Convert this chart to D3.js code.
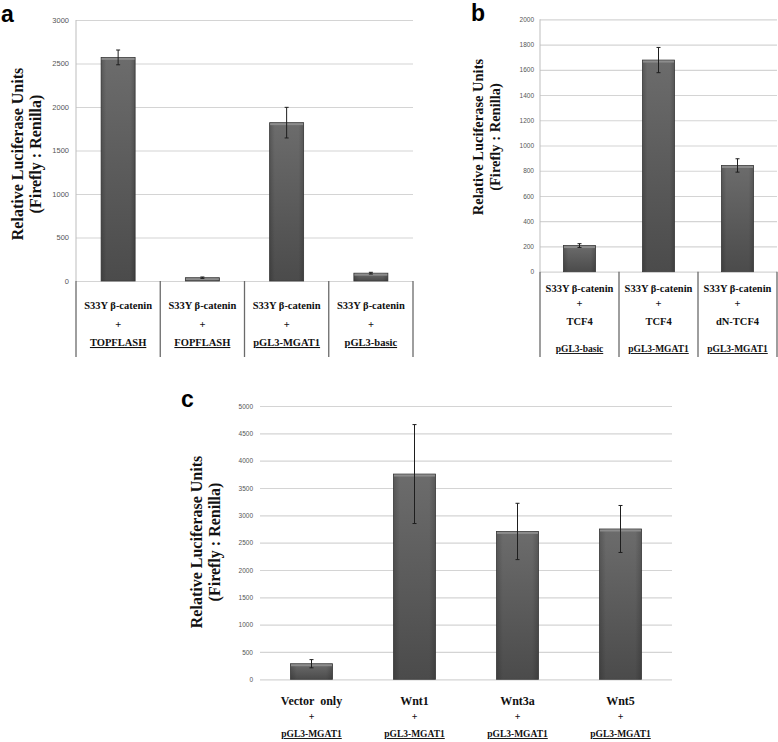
<!DOCTYPE html>
<html><head><meta charset="utf-8">
<script src="https://cdn.jsdelivr.net/npm/d3@7"></script>
<style>body{margin:0;background:#fff}svg{display:block}</style>
</head><body>
<svg id="c" width="778" height="742"></svg>
<script>
// ---- data ----
const aValues = [2570, 38, 1820, 90];
const aErrors = [85, 8, 176, 10];
const aLine1 = ["S33Y β-catenin","S33Y β-catenin","S33Y β-catenin","S33Y β-catenin"];
const aLine3 = ["TOPFLASH","FOPFLASH","pGL3-MGAT1","pGL3-basic"];
const aTicks = [0,500,1000,1500,2000,2500,3000];

const bValues = [207, 1677, 842];
const bErrors = [15, 100, 53];
const bLine1 = ["S33Y β-catenin","S33Y β-catenin","S33Y β-catenin"];
const bLine3 = ["TCF4","TCF4","dN-TCF4"];
const bLine4 = ["pGL3-basic","pGL3-MGAT1","pGL3-MGAT1"];
const bTicks = [0,200,400,600,800,1000,1200,1400,1600,1800,2000];

const cValues = [285, 3755, 2705, 2750];
const cErrors = [75, 905, 515, 430];
const cLine1 = ["Vector  only","Wnt1","Wnt3a","Wnt5"];
const cLine3 = ["pGL3-MGAT1","pGL3-MGAT1","pGL3-MGAT1","pGL3-MGAT1"];
const cTicks = [0,500,1000,1500,2000,2500,3000,3500,4000,4500,5000];

const svg = d3.select("#c");
const defs = svg.append("defs");
const g = defs.append("linearGradient").attr("id","barg").attr("x1",0).attr("y1",0).attr("x2",0).attr("y2",1);
g.append("stop").attr("offset","0%").attr("stop-color","#6c6c6c");
g.append("stop").attr("offset","100%").attr("stop-color","#4b4b4b");
const gh = defs.append("linearGradient").attr("id","barh").attr("x1",0).attr("y1",0).attr("x2",1).attr("y2",0);
gh.append("stop").attr("offset","0%").attr("stop-color","#000").attr("stop-opacity",0.18);
gh.append("stop").attr("offset","15%").attr("stop-color","#000").attr("stop-opacity",0);
gh.append("stop").attr("offset","85%").attr("stop-color","#000").attr("stop-opacity",0);
gh.append("stop").attr("offset","100%").attr("stop-color","#000").attr("stop-opacity",0.18);

const serif = "'Liberation Serif','Times New Roman',serif";

function panel(o){
  const x = d3.scaleBand().domain(d3.range(o.values.length)).range([o.x0,o.x1]).paddingInner(0).paddingOuter(0);
  const y = d3.scaleLinear().domain([0,o.max]).range([o.y0,o.y1]);
  const root = svg.append("g");
  // grid + ticks
  const ax = root.append("g").attr("transform",`translate(${o.x0},0)`)
    .call(d3.axisLeft(y).tickValues(o.ticks).tickSize(-(o.gridEnd-o.x0)).tickPadding(o.pad).tickFormat(d3.format("d")));
  ax.select(".domain").remove();
  ax.selectAll(".tick line").attr("stroke","#d4d4d4").attr("stroke-width",1.2);
  ax.selectAll(".tick text").attr("fill","#555").attr("font-family","Arial, 'Liberation Sans', sans-serif").attr("font-size",o.tickFs);
  // separators
  if(o.sep){
    const bounds = d3.range(o.values.length+1).map(i=> i<o.values.length ? x(i) : o.x1);
    root.selectAll("line.sep").data(bounds).join("line")
      .attr("x1",d=>d).attr("x2",d=>d).attr("y1",y(0)).attr("y2",o.sepEnd)
      .attr("stroke","#6a6a6a").attr("stroke-width",1.3);
    root.append("line").attr("x1",o.x0).attr("x2",o.x0).attr("y1",y(o.max)).attr("y2",y(0))
      .attr("stroke","#bdbdbd").attr("stroke-width",1);
  }
  const bw = o.bw;
  const bars = root.selectAll("g.bar").data(o.values).join("g");
  bars.append("rect").attr("x",(d,i)=>x(i)+x.bandwidth()/2-bw/2).attr("y",d=>y(d))
    .attr("width",bw).attr("height",d=>y(0)-y(d)).attr("fill","url(#barg)").attr("stroke","#3c3c3c").attr("stroke-width",0.8);
  bars.append("rect").attr("x",(d,i)=>x(i)+x.bandwidth()/2-bw/2).attr("y",d=>y(d))
    .attr("width",bw).attr("height",d=>y(0)-y(d)).attr("fill","url(#barh)");
  bars.append("rect").attr("x",(d,i)=>x(i)+x.bandwidth()/2-bw/2+0.5).attr("y",d=>y(d)+0.5)
    .attr("width",bw-1).attr("height",d=>Math.min(2,y(0)-y(d))).attr("fill","#8c8c8c");
  // error bars
  const eb = root.selectAll("g.err").data(o.values).join("g").attr("stroke","#1e1e1e").attr("stroke-width",1);
  eb.append("line").attr("x1",(d,i)=>x(i)+x.bandwidth()/2).attr("x2",(d,i)=>x(i)+x.bandwidth()/2)
    .attr("y1",(d,i)=>y(d+o.errs[i])).attr("y2",(d,i)=>y(d-o.errs[i]));
  eb.append("line").attr("x1",(d,i)=>x(i)+x.bandwidth()/2-2).attr("x2",(d,i)=>x(i)+x.bandwidth()/2+2)
    .attr("y1",(d,i)=>y(d+o.errs[i])).attr("y2",(d,i)=>y(d+o.errs[i]));
  eb.append("line").attr("x1",(d,i)=>x(i)+x.bandwidth()/2-2).attr("x2",(d,i)=>x(i)+x.bandwidth()/2+2)
    .attr("y1",(d,i)=>y(d-o.errs[i])).attr("y2",(d,i)=>y(d-o.errs[i]));
  // category labels
  o.labels.forEach(L=>{
    root.selectAll(null).data(L.text).join("text")
      .attr("x",(d,i)=>x(i)+x.bandwidth()/2).attr("y",L.y).attr("text-anchor","middle")
      .attr("font-family",serif).attr("font-weight","bold").attr("font-size",L.fs).attr("fill","#111")
      .attr("text-decoration",L.u?"underline":null).style("white-space","pre").text(d=>d);
  });
  // y title
  const t = root.append("text").attr("transform",`translate(${o.tx},${o.ty}) rotate(-90)`)
    .attr("text-anchor","middle").attr("font-family",serif).attr("font-weight","bold").attr("font-size",o.tfs).attr("fill","#111");
  t.append("tspan").attr("x",0).attr("dy",0).text("Relative Luciferase Units");
  t.append("tspan").attr("x",0).attr("dy",o.tfs*1.15).text("(Firefly : Renilla)");
  // panel letter
  root.append("text").attr("x",o.lx).attr("y",o.ly).attr("font-family","Arial, 'Liberation Sans', sans-serif")
    .attr("font-weight","bold").attr("font-size",23).attr("fill","#000").text(o.letter);
}

panel({values:aValues, errs:aErrors, max:3000, ticks:aTicks, x0:76, x1:413, gridEnd:413, y0:281, y1:20,
  bw:34, pad:7, tickFs:7.5, sep:true, sepEnd:357,
  labels:[{text:aLine1,y:309,fs:10.5},{text:aLine1.map(()=>"+"),y:328,fs:10.5},{text:aLine3,y:346,fs:10.5,u:true}],
  tx:23, ty:154, tfs:16, lx:1, ly:22, letter:"a"});

panel({values:bValues, errs:bErrors, max:2000, ticks:bTicks, x0:540, x1:777, gridEnd:777, y0:271.7, y1:19.3,
  bw:32, pad:6, tickFs:6.5, sep:true, sepEnd:357,
  labels:[{text:bLine1,y:292,fs:10.5},{text:bLine1.map(()=>"+"),y:307,fs:10.5},{text:bLine3,y:325,fs:10.5},{text:bLine4,y:352,fs:9.5,u:true}],
  tx:483, ty:137, tfs:14.5, lx:471, ly:21, letter:"b"});

panel({values:cValues, errs:cErrors, max:5000, ticks:cTicks, x0:260, x1:672, gridEnd:672, y0:679.3, y1:406,
  bw:42, pad:7, tickFs:6.5, sep:false,
  labels:[{text:cLine1,y:705,fs:12},{text:cLine1.map(()=>"+"),y:720,fs:10},{text:cLine3,y:737,fs:9.5,u:true}],
  tx:202, ty:542, tfs:16, lx:181, ly:407, letter:"c"});
</script>
</body></html>
